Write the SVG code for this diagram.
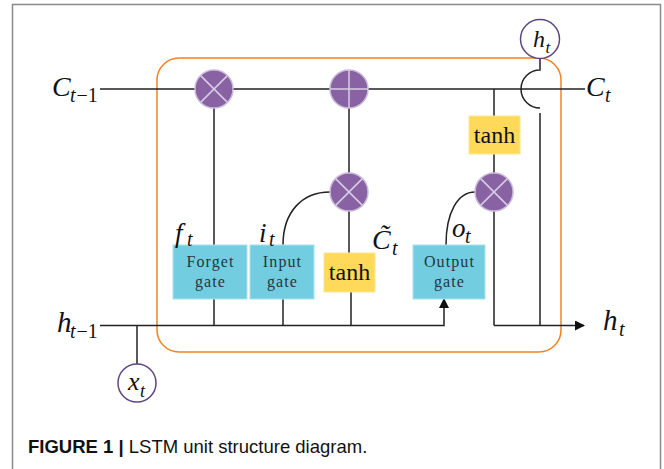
<svg xmlns="http://www.w3.org/2000/svg" width="664" height="469" viewBox="0 0 664 469">
<defs>
<style>
.ln{fill:none;stroke:#222;stroke-width:1.5}
.op{fill:#8862a3;stroke:#cbb9da;stroke-width:1.5}
.cr{stroke:#d8cbe6;stroke-width:1.5}
.io{fill:#fff;stroke:#5e4580;stroke-width:1.5}
.gate{fill:#72cde0;stroke:#a9e2ee;stroke-width:1}
.th{fill:#ffd95a;stroke:#ffe68f;stroke-width:1}
.gt{font-family:"Liberation Serif","Times New Roman",serif;font-size:16px;letter-spacing:1.1px;fill:#22383f;text-anchor:middle}
.tn{font-family:"Liberation Serif","Times New Roman",serif;font-size:24px;fill:#111;text-anchor:middle}
.m{font-family:"Liberation Serif","Times New Roman",serif;font-style:italic;fill:#111}
.u{font-family:"Liberation Serif","Times New Roman",serif;fill:#111}
</style>
<marker id="ah" viewBox="0 0 10 10" refX="9" refY="5" markerWidth="10" markerHeight="10" markerUnits="userSpaceOnUse" orient="auto">
<path d="M0,0 L10,5 L0,10 Z" fill="#111"/>
</marker>
</defs>
<rect x="0" y="0" width="664" height="469" fill="#fff"/>
<rect id="frame" x="12.5" y="4.5" width="648" height="480" fill="none" stroke="#8a8a8a" stroke-width="1.5"/>
<rect id="cell" x="157" y="58" width="404" height="294" rx="22" ry="22" fill="none" stroke="#f58220" stroke-width="1.5"/>

<g id="connectors">
<path class="ln" d="M100,89 H195 M233,89 H330 M368,89 H585"/>
<path class="ln" d="M100,325.5 H444 V299" marker-end="url(#ah)"/>
<path class="ln" d="M494,325.5 H584" marker-end="url(#ah)"/>
<path class="ln" d="M214,108 V245 M214,299 V325.5"/>
<path class="ln" d="M283,299 V325.5 M283,245 C283,212 302,192 330,192"/>
<path class="ln" d="M349,108 V173 M349,211 V253 M351,292 V325.5"/>
<path class="ln" d="M446,245 C446,212 458,192 475,192"/>
<path class="ln" d="M494,89 V116 M494,154 V173 M494,211 V325.5"/>
<path class="ln" d="M540,58 V70 A19,19 0 0 0 540,108 M540,113 V325.5"/>
<path class="ln" d="M137,325.5 V364"/>
</g>

<g id="forget-mul">
<circle class="op" cx="214" cy="89" r="19"/>
<path class="cr" d="M200.6,75.6 L227.4,102.4 M227.4,75.6 L200.6,102.4"/>
</g>
<g id="add">
<circle class="op" cx="349" cy="89" r="19"/>
<path class="cr" d="M330,89 H368 M349,70 V108"/>
</g>
<g id="input-mul">
<circle class="op" cx="349" cy="192" r="19"/>
<path class="cr" d="M335.6,178.6 L362.4,205.4 M362.4,178.6 L335.6,205.4"/>
</g>
<g id="output-mul">
<circle class="op" cx="494" cy="192" r="19"/>
<path class="cr" d="M480.6,178.6 L507.4,205.4 M507.4,178.6 L480.6,205.4"/>
</g>

<g id="forget-gate">
<rect class="gate" x="173" y="245" width="74" height="54"/>
<text class="gt" x="210.5" y="267">Forget</text>
<text class="gt" x="210.5" y="287">gate</text>
</g>
<g id="input-gate">
<rect class="gate" x="250" y="245" width="64" height="54"/>
<text class="gt" x="282.5" y="267">Input</text>
<text class="gt" x="282.5" y="287">gate</text>
</g>
<g id="tanh-candidate">
<rect class="th" x="324" y="253" width="51" height="39"/>
<text class="tn" x="349.5" y="280">tanh</text>
</g>
<g id="output-gate">
<rect class="gate" x="413" y="245" width="72" height="54"/>
<text class="gt" x="449.5" y="267">Output</text>
<text class="gt" x="449.5" y="287">gate</text>
</g>
<g id="tanh-cell">
<rect class="th" x="469" y="116" width="51" height="38"/>
<text class="tn" x="494.5" y="143">tanh</text>
</g>

<g id="ht-top">
<circle class="io" cx="540" cy="39" r="19.5"/>
<text class="m" x="533" y="47" font-size="24">h</text>
<text class="m" x="545.5" y="53" font-size="17">t</text>
</g>
<g id="xt">
<circle class="io" cx="137" cy="383" r="19"/>
<text class="m" x="128" y="390" font-size="26">x</text>
<text class="m" x="140" y="397" font-size="18">t</text>
</g>

<g id="labels">
<text class="m" x="52" y="96" font-size="28">C</text>
<text class="m" x="70" y="102" font-size="20">t</text>
<text class="u" x="76.5" y="102" font-size="20">−1</text>
<text class="m" x="586" y="96" font-size="28">C</text>
<text class="m" x="605" y="102" font-size="20">t</text>
<text class="m" x="57" y="332" font-size="29">h</text>
<text class="m" x="70" y="338" font-size="20">t</text>
<text class="u" x="76.5" y="338" font-size="20">−1</text>
<text class="m" x="603" y="330" font-size="29">h</text>
<text class="m" x="619" y="336" font-size="20">t</text>
<text class="m" x="175" y="242" font-size="27">f</text>
<text class="m" x="187" y="246" font-size="20">t</text>
<text class="m" x="259" y="242" font-size="27">i</text>
<text class="m" x="269" y="246" font-size="20">t</text>
<text class="m" x="372" y="249" font-size="28">C&#x303;</text>
<text class="m" x="392" y="255" font-size="20">t</text>
<text class="m" x="452" y="237" font-size="27">o</text>
<text class="m" x="465" y="243" font-size="20">t</text>
</g>

<g id="caption">
<text x="28" y="453" font-family="Liberation Sans,Arial,sans-serif" font-size="18.5" fill="#111"><tspan font-weight="bold">FIGURE 1 | </tspan>LSTM unit structure diagram.</text>
</g>
</svg>
